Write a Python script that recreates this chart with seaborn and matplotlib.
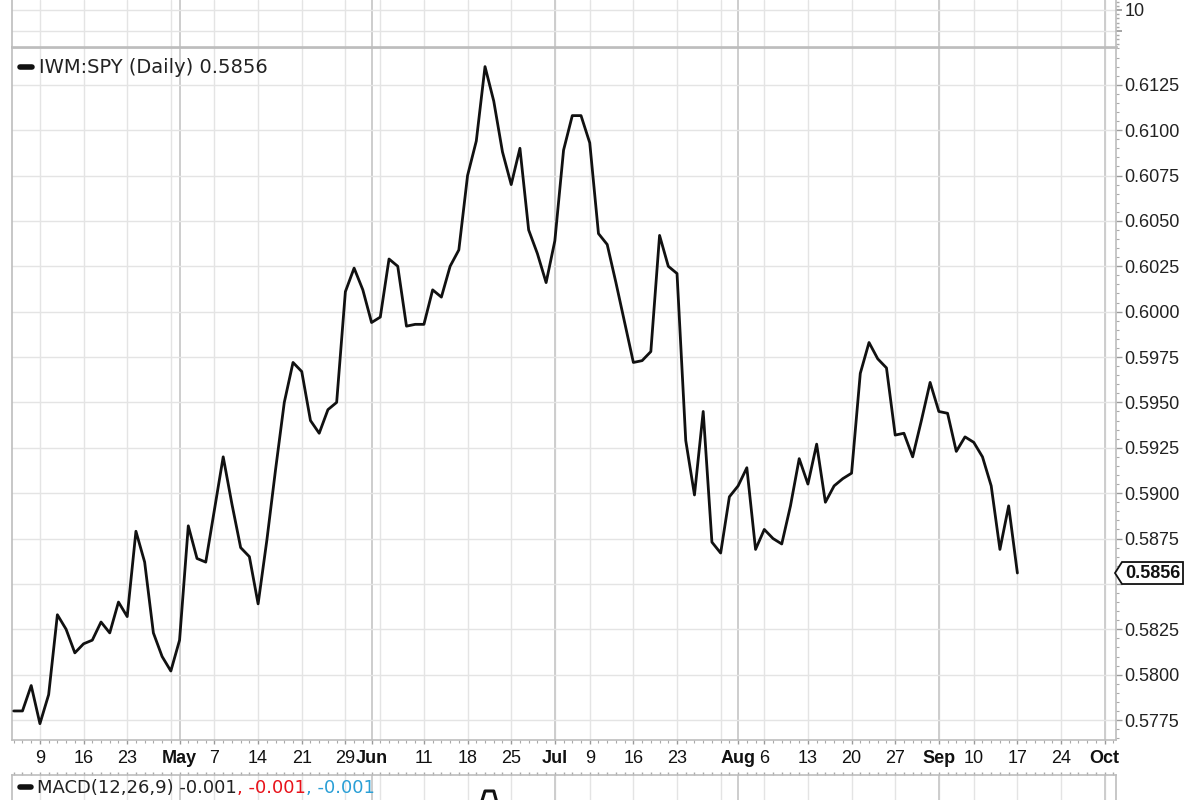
import numpy as np
import pandas as pd
import matplotlib
matplotlib.use("Agg")
import matplotlib.pyplot as plt
import seaborn as sns
from matplotlib import font_manager
from matplotlib.patches import Polygon
from matplotlib.transforms import IdentityTransform
from matplotlib.ticker import MultipleLocator

# ---------------- data ----------------
start_date = "2012-04-03"
end_date = "2012-10-01"
holidays = ["2012-04-06", "2012-05-28", "2012-07-04", "2012-09-03"]

ratio = [
    0.5780, 0.5780, 0.5794, 0.5773, 0.5789, 0.5833, 0.5825, 0.5812, 0.5817, 0.5819,
    0.5829, 0.5823, 0.5840, 0.5832, 0.5879, 0.5862, 0.5823, 0.5810, 0.5802, 0.5819,
    0.5882, 0.5864, 0.5862, 0.5891, 0.5920, 0.5894, 0.5870, 0.5865, 0.5839, 0.5874,
    0.5913, 0.5950, 0.5972, 0.5967, 0.5940, 0.5933, 0.5946, 0.5950, 0.6011, 0.6024,
    0.6012, 0.5994, 0.5997, 0.6029, 0.6025, 0.5992, 0.5993, 0.5993, 0.6012, 0.6008,
    0.6025, 0.6034, 0.6075, 0.6094, 0.6135, 0.6116, 0.6088, 0.6070, 0.6090, 0.6045,
    0.6032, 0.6016, 0.6039, 0.6089, 0.6108, 0.6108, 0.6093, 0.6043, 0.6037, 0.6016,
    0.5994, 0.5972, 0.5973, 0.5978, 0.6042, 0.6025, 0.6021, 0.5929, 0.5899, 0.5945,
    0.5873, 0.5867, 0.5898, 0.5904, 0.5914, 0.5869, 0.5880, 0.5875, 0.5872, 0.5893,
    0.5919, 0.5905, 0.5927, 0.5895, 0.5904, 0.5908, 0.5911, 0.5966, 0.5983, 0.5974,
    0.5969, 0.5932, 0.5933, 0.5920, 0.5940, 0.5961, 0.5945, 0.5944, 0.5923, 0.5931,
    0.5928, 0.5920, 0.5904, 0.5869, 0.5893, 0.5856,
]
last_value = 0.5856
series_label = "IWM:SPY (Daily) 0.5856"

tick_dates = ["2012-04-09", "2012-04-16", "2012-04-23", "2012-05-01", "2012-05-07",
              "2012-05-14", "2012-05-21", "2012-05-29", "2012-06-01", "2012-06-11",
              "2012-06-18", "2012-06-25", "2012-07-02", "2012-07-09", "2012-07-16",
              "2012-07-23", "2012-08-01", "2012-08-06", "2012-08-13", "2012-08-20",
              "2012-08-27", "2012-09-04", "2012-09-10", "2012-09-17", "2012-09-24",
              "2012-10-01"]
tick_labels = ["9", "16", "23", "May", "7", "14", "21", "29", "Jun", "11", "18", "25",
               "Jul", "9", "16", "23", "Aug", "6", "13", "20", "27", "Sep", "10", "17",
               "24", "Oct"]
month_names = ["May", "Jun", "Jul", "Aug", "Sep", "Oct"]

y_ticks = [0.5775, 0.5800, 0.5825, 0.5850, 0.5875, 0.5900, 0.5925, 0.5950, 0.5975,
           0.6000, 0.6025, 0.6050, 0.6075, 0.6100, 0.6125]
hidden_y_label = 0.5850  # covered by the last-value tag in the reference

top_ticks = [5, 10]
top_labels = ["", "10"]

macd_dates = ["2012-06-19", "2012-06-20", "2012-06-21", "2012-06-22"]
macd_vals = [0.0014, 0.0021, 0.0021, 0.0013]
macd_label = "MACD(12,26,9) -0.001"
macd_signal_txt = ", -0.001"
macd_hist_txt = ", -0.001"

# ---------------- style ----------------
sns.set_theme(style="white")
plt.rcParams["font.family"] = ["DejaVu Sans"]
names = {f.name for f in font_manager.fontManager.ttflist}
narrow = "Liberation Sans Narrow" if "Liberation Sans Narrow" in names else None
axis_font = "Liberation Sans" if "Liberation Sans" in names else "DejaVu Sans"
xfont = narrow if narrow else axis_font
xsize = 15 if narrow else 13

GRID = "#e4e4e4"
MGRID = "#cdcdcd"
SPINE = "#bdbdbd"

# trading calendar
cal = pd.bdate_range(start_date, end_date)
cal = cal[~cal.isin(pd.to_datetime(holidays))]
pos = {d.strftime("%Y-%m-%d"): i for i, d in enumerate(cal)}
cal_s = pd.Series(np.arange(len(cal)), index=cal)
iso = cal.isocalendar()
week_starts = cal_s.groupby([iso.year.values, iso.week.values]).min().values
month_starts = cal_s.groupby([cal.year, cal.month]).min().values

df = pd.DataFrame({"day": np.arange(len(ratio)), "ratio": ratio})
XLIM = (-0.2, 126.3)

fig = plt.figure(figsize=(12, 8), dpi=100)
fig.patch.set_facecolor("white")

L, W = 12 / 1200, 1104 / 1200


def vgrid(ax):
    for w in week_starts:
        if w > 0:
            ax.axvline(w, color=GRID, lw=1.0, zorder=0)
    for m in month_starts:
        if m > 0:
            ax.axvline(m, color=MGRID, lw=1.4, zorder=0)


def style_spines(ax):
    for s in ax.spines.values():
        s.set_color(SPINE)
        s.set_linewidth(1.2)


# ---------------- main panel ----------------
ax = fig.add_axes([L, 60 / 800, W, 693 / 800])
ax.set_xlim(*XLIM)
ax.set_ylim(0.57640, 0.61458)
vgrid(ax)
for yv in y_ticks:
    ax.axhline(yv, color=GRID, lw=1.0, zorder=0)

sns.lineplot(data=df, x="day", y="ratio", ax=ax, color="#111111", lw=2.0,
             label=series_label, zorder=3)
ax.set_xlabel("")
ax.set_ylabel("")

ax.yaxis.tick_right()
ax.set_yticks(y_ticks)
ax.set_yticklabels(["" if abs(v - hidden_y_label) < 1e-9 else f"{v:.4f}" for v in y_ticks],
                   fontfamily=axis_font)
ax.yaxis.set_minor_locator(MultipleLocator(0.0005))
ax.tick_params(axis="y", which="major", right=True, left=False, length=4, width=1,
               color="#9a9a9a", pad=2, labelsize=13, labelcolor="#222222")
ax.tick_params(axis="y", which="minor", right=True, left=False, length=2, width=0.8,
               color="#aaaaaa")

ax.set_xticks([pos[d] for d in tick_dates])
ax.set_xticklabels(tick_labels, fontfamily=xfont)
ax.xaxis.set_minor_locator(MultipleLocator(1))
ax.tick_params(axis="x", which="major", bottom=True, length=3, width=1, color="#9a9a9a",
               pad=4, labelsize=xsize, labelcolor="#111111")
ax.tick_params(axis="x", which="minor", bottom=True, length=2, width=0.8, color="#aaaaaa")
for t in ax.get_xticklabels():
    if t.get_text() in month_names:
        t.set_fontweight("bold")
style_spines(ax)
ax.spines["top"].set_linewidth(2.0)

leg = ax.legend(loc="center left", bbox_to_anchor=(0.0075, 0.9697), frameon=False,
                borderaxespad=0, borderpad=0, handlelength=0.6, handletextpad=0.35,
                prop={"family": "DejaVu Sans", "size": 14})
for h in leg.legend_handles:
    h.set_linewidth(4)
    h.set_color("#111111")
for t in leg.get_texts():
    t.set_color("#222222")

# ---------------- top panel ----------------
axt = fig.add_axes([L, 753 / 800, W, 47 / 800])
axt.set_xlim(*XLIM)
axt.set_ylim(1.19, 12.38)
vgrid(axt)
for yv in top_ticks:
    axt.axhline(yv, color=GRID, lw=1.0, zorder=0)
axt.yaxis.tick_right()
axt.set_yticks(top_ticks)
axt.set_yticklabels(top_labels, fontfamily=axis_font)
axt.yaxis.set_minor_locator(MultipleLocator(1))
axt.tick_params(axis="y", which="major", right=True, left=False, length=4, color="#9a9a9a",
                pad=2, labelsize=13, labelcolor="#222222")
axt.tick_params(axis="y", which="minor", right=True, left=False, length=2, color="#aaaaaa")
axt.set_xticks([])
style_spines(axt)
axt.spines["top"].set_visible(False)

# ---------------- MACD panel ----------------
axm = fig.add_axes([L, -35 / 800, W, 60 / 800])
axm.set_xlim(*XLIM)
axm.set_ylim(0.0010, 0.0025)
vgrid(axm)
mdf = pd.DataFrame({"day": [pos[d] for d in macd_dates], "macd": macd_vals})
sns.lineplot(data=mdf, x="day", y="macd", ax=axm, color="#111111", lw=2.2,
             label=macd_label, zorder=3)
axm.set_xlabel("")
axm.set_ylabel("")
axm.set_yticks([])
axm.set_xticks([])
axm.xaxis.set_minor_locator(MultipleLocator(1))
axm.tick_params(axis="x", which="minor", top=True, bottom=False, length=2, color="#aaaaaa")
style_spines(axm)
mleg = axm.legend(loc="center left", bbox_to_anchor=(0.0075, 0.78), frameon=False,
                  borderaxespad=0, borderpad=0, handlelength=0.6, handletextpad=0.35,
                  prop={"family": "DejaVu Sans", "size": 13})
for h in mleg.legend_handles:
    h.set_linewidth(4)
mtxt = mleg.get_texts()[0]
mtxt.set_color("#222222")
a1 = axm.annotate(macd_signal_txt, xy=(1, 0), xycoords=mtxt, va="bottom", ha="left",
                  color="#e8121a", fontsize=13, fontfamily="DejaVu Sans",
                  annotation_clip=False)
a2 = axm.annotate(macd_hist_txt, xy=(1, 0), xycoords=a1, va="bottom", ha="left",
                  color="#2a9fd6", fontsize=13, fontfamily="DejaVu Sans",
                  annotation_clip=False)

# ---------------- last value tag ----------------
fig.canvas.draw()
xd_spine = ax.transAxes.transform((1, 0))[0]
yd = ax.transData.transform((0, last_value))[1]
tag = Polygon([(xd_spine - 1, yd), (xd_spine + 6, yd + 11), (xd_spine + 67, yd + 11),
               (xd_spine + 67, yd - 11), (xd_spine + 6, yd - 11)], closed=True,
              facecolor="white", edgecolor="#111111", lw=1.3,
              transform=IdentityTransform(), zorder=5)
fig.add_artist(tag)
fig.text((xd_spine + 37) / 1200, yd / 800, f"{last_value:.4f}", ha="center", va="center",
         fontsize=13, fontweight="bold", fontfamily=axis_font, color="#111111", zorder=6)

fig.savefig("out.png", dpi=100, facecolor="white")
